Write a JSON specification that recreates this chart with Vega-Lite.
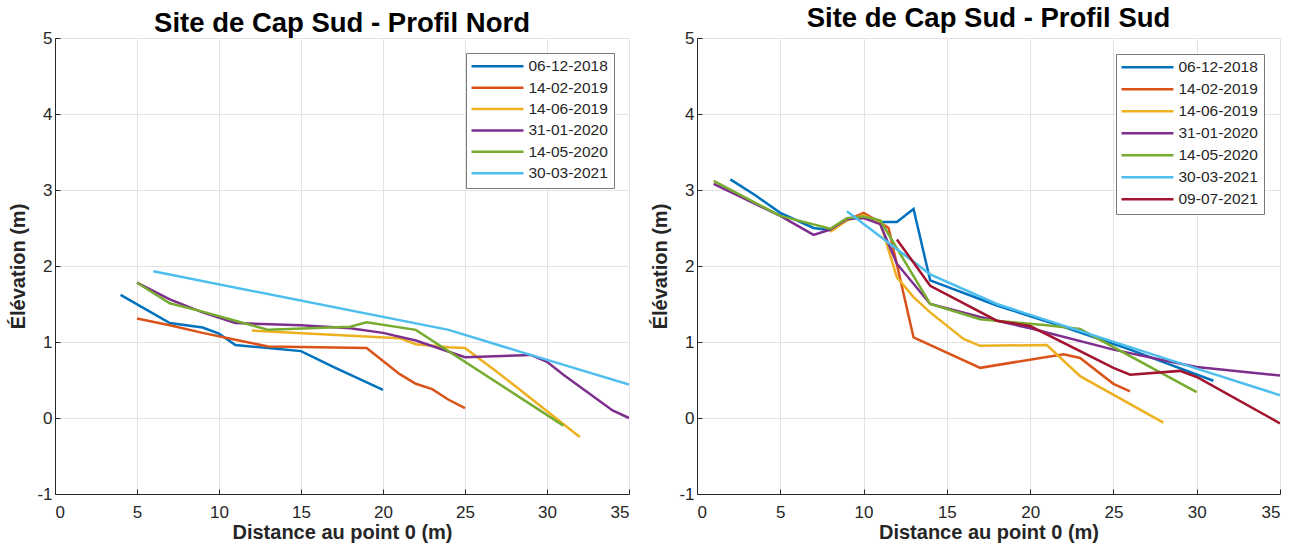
{
  "$schema": "https://vega.github.io/schema/vega-lite/v6.json",
  "background": "white",
  "padding": {"left": 8, "top": 4, "right": 5, "bottom": 5},
  "spacing": 20,
  "datasets": {
    "nord": [
      {"d": "06-12-2018", "x": 4, "y": 1.62}, {"d": "06-12-2018", "x": 7, "y": 1.25}, {"d": "06-12-2018", "x": 9, "y": 1.19}, {"d": "06-12-2018", "x": 10, "y": 1.11}, {"d": "06-12-2018", "x": 11, "y": 0.96}, {"d": "06-12-2018", "x": 13, "y": 0.92}, {"d": "06-12-2018", "x": 15, "y": 0.88}, {"d": "06-12-2018", "x": 17, "y": 0.67}, {"d": "06-12-2018", "x": 20, "y": 0.37},
      {"d": "14-02-2019", "x": 5, "y": 1.31}, {"d": "14-02-2019", "x": 7, "y": 1.22}, {"d": "14-02-2019", "x": 9, "y": 1.12}, {"d": "14-02-2019", "x": 11, "y": 1.03}, {"d": "14-02-2019", "x": 13, "y": 0.94}, {"d": "14-02-2019", "x": 19, "y": 0.92}, {"d": "14-02-2019", "x": 21, "y": 0.58}, {"d": "14-02-2019", "x": 22, "y": 0.45}, {"d": "14-02-2019", "x": 23, "y": 0.38}, {"d": "14-02-2019", "x": 24, "y": 0.24}, {"d": "14-02-2019", "x": 25, "y": 0.13},
      {"d": "14-06-2019", "x": 12, "y": 1.15}, {"d": "14-06-2019", "x": 21, "y": 1.05}, {"d": "14-06-2019", "x": 22, "y": 0.97}, {"d": "14-06-2019", "x": 24, "y": 0.93}, {"d": "14-06-2019", "x": 25, "y": 0.92}, {"d": "14-06-2019", "x": 27, "y": 0.6}, {"d": "14-06-2019", "x": 32, "y": -0.25},
      {"d": "31-01-2020", "x": 5, "y": 1.78}, {"d": "31-01-2020", "x": 7, "y": 1.56}, {"d": "31-01-2020", "x": 9, "y": 1.39}, {"d": "31-01-2020", "x": 11, "y": 1.25}, {"d": "31-01-2020", "x": 15, "y": 1.22}, {"d": "31-01-2020", "x": 18, "y": 1.18}, {"d": "31-01-2020", "x": 20, "y": 1.12}, {"d": "31-01-2020", "x": 22, "y": 1.02}, {"d": "31-01-2020", "x": 25, "y": 0.8}, {"d": "31-01-2020", "x": 29, "y": 0.83}, {"d": "31-01-2020", "x": 30, "y": 0.74}, {"d": "31-01-2020", "x": 31, "y": 0.57}, {"d": "31-01-2020", "x": 34, "y": 0.1}, {"d": "31-01-2020", "x": 35, "y": 0.0},
      {"d": "14-05-2020", "x": 5, "y": 1.78}, {"d": "14-05-2020", "x": 7, "y": 1.51}, {"d": "14-05-2020", "x": 9, "y": 1.4}, {"d": "14-05-2020", "x": 11, "y": 1.28}, {"d": "14-05-2020", "x": 13, "y": 1.16}, {"d": "14-05-2020", "x": 18, "y": 1.2}, {"d": "14-05-2020", "x": 19, "y": 1.26}, {"d": "14-05-2020", "x": 22, "y": 1.16}, {"d": "14-05-2020", "x": 31, "y": -0.1},
      {"d": "30-03-2021", "x": 6, "y": 1.93}, {"d": "30-03-2021", "x": 24, "y": 1.16}, {"d": "30-03-2021", "x": 29, "y": 0.83}, {"d": "30-03-2021", "x": 35, "y": 0.44}
    ],
    "sud": [
      {"d": "06-12-2018", "x": 2, "y": 3.14}, {"d": "06-12-2018", "x": 3.5, "y": 2.93}, {"d": "06-12-2018", "x": 5, "y": 2.7}, {"d": "06-12-2018", "x": 7, "y": 2.5}, {"d": "06-12-2018", "x": 8, "y": 2.47}, {"d": "06-12-2018", "x": 9, "y": 2.6}, {"d": "06-12-2018", "x": 10, "y": 2.68}, {"d": "06-12-2018", "x": 11, "y": 2.58}, {"d": "06-12-2018", "x": 12, "y": 2.58}, {"d": "06-12-2018", "x": 13, "y": 2.75}, {"d": "06-12-2018", "x": 14, "y": 1.81}, {"d": "06-12-2018", "x": 18, "y": 1.48}, {"d": "06-12-2018", "x": 22, "y": 1.2}, {"d": "06-12-2018", "x": 26, "y": 0.9}, {"d": "06-12-2018", "x": 31, "y": 0.49},
      {"d": "14-02-2019", "x": 9, "y": 2.6}, {"d": "14-02-2019", "x": 10, "y": 2.7}, {"d": "14-02-2019", "x": 11, "y": 2.57}, {"d": "14-02-2019", "x": 11.5, "y": 2.5}, {"d": "14-02-2019", "x": 13, "y": 1.06}, {"d": "14-02-2019", "x": 17, "y": 0.66}, {"d": "14-02-2019", "x": 22, "y": 0.84}, {"d": "14-02-2019", "x": 23, "y": 0.79}, {"d": "14-02-2019", "x": 25, "y": 0.45}, {"d": "14-02-2019", "x": 26, "y": 0.35},
      {"d": "14-06-2019", "x": 8, "y": 2.45}, {"d": "14-06-2019", "x": 9, "y": 2.6}, {"d": "14-06-2019", "x": 10, "y": 2.67}, {"d": "14-06-2019", "x": 11, "y": 2.57}, {"d": "14-06-2019", "x": 12, "y": 1.85}, {"d": "14-06-2019", "x": 13, "y": 1.59}, {"d": "14-06-2019", "x": 14, "y": 1.39}, {"d": "14-06-2019", "x": 16, "y": 1.04}, {"d": "14-06-2019", "x": 17, "y": 0.95}, {"d": "14-06-2019", "x": 21, "y": 0.96}, {"d": "14-06-2019", "x": 23, "y": 0.55}, {"d": "14-06-2019", "x": 28, "y": -0.06},
      {"d": "31-01-2020", "x": 1, "y": 3.08}, {"d": "31-01-2020", "x": 5, "y": 2.66}, {"d": "31-01-2020", "x": 7, "y": 2.41}, {"d": "31-01-2020", "x": 8, "y": 2.48}, {"d": "31-01-2020", "x": 9, "y": 2.62}, {"d": "31-01-2020", "x": 10, "y": 2.63}, {"d": "31-01-2020", "x": 11, "y": 2.55}, {"d": "31-01-2020", "x": 12, "y": 2.03}, {"d": "31-01-2020", "x": 14, "y": 1.5}, {"d": "31-01-2020", "x": 17, "y": 1.33}, {"d": "31-01-2020", "x": 20, "y": 1.18}, {"d": "31-01-2020", "x": 25, "y": 0.9}, {"d": "31-01-2020", "x": 28, "y": 0.76}, {"d": "31-01-2020", "x": 30, "y": 0.67}, {"d": "31-01-2020", "x": 35, "y": 0.56},
      {"d": "14-05-2020", "x": 1, "y": 3.12}, {"d": "14-05-2020", "x": 5, "y": 2.66}, {"d": "14-05-2020", "x": 8, "y": 2.49}, {"d": "14-05-2020", "x": 9, "y": 2.63}, {"d": "14-05-2020", "x": 10, "y": 2.65}, {"d": "14-05-2020", "x": 11, "y": 2.6}, {"d": "14-05-2020", "x": 14, "y": 1.5}, {"d": "14-05-2020", "x": 17, "y": 1.3}, {"d": "14-05-2020", "x": 21, "y": 1.22}, {"d": "14-05-2020", "x": 23, "y": 1.17}, {"d": "14-05-2020", "x": 30, "y": 0.34},
      {"d": "30-03-2021", "x": 9, "y": 2.72}, {"d": "30-03-2021", "x": 14, "y": 1.89}, {"d": "30-03-2021", "x": 18, "y": 1.5}, {"d": "30-03-2021", "x": 30, "y": 0.65}, {"d": "30-03-2021", "x": 35, "y": 0.3},
      {"d": "09-07-2021", "x": 12, "y": 2.35}, {"d": "09-07-2021", "x": 14, "y": 1.74}, {"d": "09-07-2021", "x": 18, "y": 1.28}, {"d": "09-07-2021", "x": 20, "y": 1.21}, {"d": "09-07-2021", "x": 25, "y": 0.66}, {"d": "09-07-2021", "x": 26, "y": 0.57}, {"d": "09-07-2021", "x": 29, "y": 0.62}, {"d": "09-07-2021", "x": 30, "y": 0.54}, {"d": "09-07-2021", "x": 35, "y": -0.07}
    ]
  },
  "hconcat": [
    {
      "data": {"name": "nord"},
      "width": 574,
      "height": 456,
      "title": {"text": "Site de Cap Sud - Profil Nord", "offset": -8.3},
      "mark": {"type": "line", "strokeWidth": 2.5, "clip": true},
      "encoding": {
        "x": {"field": "x", "type": "quantitative", "title": "Distance au point 0 (m)", "scale": {"domain": [0, 35], "nice": false, "zero": false}, "axis": {"values": [0, 5, 10, 15, 20, 25, 30, 35], "labelPadding": 15, "titlePadding": 2}},
        "y": {"field": "y", "type": "quantitative", "title": "Élévation (m)", "scale": {"domain": [-1, 5], "nice": false, "zero": false}, "axis": {"values": [-1, 0, 1, 2, 3, 4, 5], "labelExpr": "'' + datum.value", "labelPadding": 8}},
        "color": {"field": "d", "type": "nominal", "scale": {"domain": ["06-12-2018", "14-02-2019", "14-06-2019", "31-01-2020", "14-05-2020", "30-03-2021"], "range": ["#0072BD", "#D95319", "#EDB120", "#7E2F8E", "#77AC30", "#4DBEEE"]}, "legend": {"offset": 15}}
      }
    },
    {
      "data": {"name": "sud"},
      "width": 583,
      "height": 456,
      "title": {"text": "Site de Cap Sud - Profil Sud", "offset": -3.3},
      "mark": {"type": "line", "strokeWidth": 2.5, "clip": true},
      "encoding": {
        "x": {"field": "x", "type": "quantitative", "title": "Distance au point 0 (m)", "scale": {"domain": [0, 35], "nice": false, "zero": false}, "axis": {"values": [0, 5, 10, 15, 20, 25, 30, 35], "labelPadding": 15, "titlePadding": 2}},
        "y": {"field": "y", "type": "quantitative", "title": "Élévation (m)", "scale": {"domain": [-1, 5], "nice": false, "zero": false}, "axis": {"values": [-1, 0, 1, 2, 3, 4, 5], "labelExpr": "'' + datum.value", "labelPadding": 8}},
        "color": {"field": "d", "type": "nominal", "scale": {"domain": ["06-12-2018", "14-02-2019", "14-06-2019", "31-01-2020", "14-05-2020", "30-03-2021", "09-07-2021"], "range": ["#0072BD", "#D95319", "#EDB120", "#7E2F8E", "#77AC30", "#4DBEEE", "#A2142F"]}, "legend": {"offset": 16, "rowPadding": 5}}
      }
    }
  ],
  "resolve": {"scale": {"color": "independent"}, "legend": {"color": "independent"}},
  "config": {
    "view": {"stroke": null},
    "title": {"font": "Liberation Sans", "fontSize": 27.5, "fontWeight": "bold", "color": "#000000", "anchor": "middle", "baseline": "alphabetic", "frame": "group"},
    "axis": {
      "domainColor": "#262626", "tickColor": "#262626", "labelColor": "#262626",
      "labelFont": "Liberation Sans", "labelFontSize": 17,
      "titleFont": "Liberation Sans", "titleFontSize": 20, "titleFontWeight": "bold", "titleColor": "#262626",
      "gridColor": "#e3e3e3", "gridWidth": 1, "tickSize": -5, "titlePadding": 8
    },
    "legend": {
      "orient": "top-right", "title": null,
      "strokeColor": "#7a7a7a", "fillColor": "white", "padding": 5.5,
      "symbolType": "M-5,0H5", "symbolSize": 108, "symbolStrokeWidth": 2.5, "symbolOffset": 18.25,
      "labelOffset": 23.25, "labelFont": "Liberation Sans", "labelFontSize": 15.5, "labelColor": "#262626",
      "rowPadding": 4.4, "labelLimit": 300
    }
  }
}
